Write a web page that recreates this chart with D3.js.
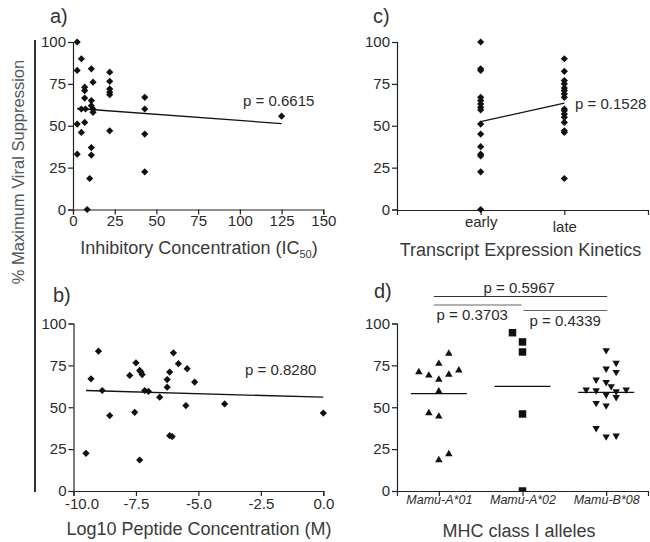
<!DOCTYPE html>
<html><head><meta charset="utf-8">
<script src="https://cdn.jsdelivr.net/npm/d3@7"></script>
<style>body{margin:0;background:#fff}svg{display:block}</style>
</head><body><svg id="c" width="650" height="542"></svg>
<script>
// ---------- DATA ----------
// a) Inhibitory concentration (IC50) vs % max viral suppression
const icX = [2.5,5,2.5,11,12,7,7,7,5,7.5,11,11,12,12,2.5,7,5,2.5,11,11,10,8.5,22,22,22,22,22,22,43,43,43,43,125];
const icY = [100,90,83,84,76,73,71,66.5,60,60,65,62,60,58,51,52,46,33,37,32.5,18.5,0,82,76.5,72,70,68.5,47,67,60,45,22.5,55.7];
const fitAX = [2.5,125], fitAY = [60.3,51.3];
const pA = "p = 0.6615";
const xTicksA = [0,25,50,75,100,125,150];

// b) Log10 peptide concentration vs % max viral suppression
const logX = [-9.0,-9.3,-8.85,-8.55,-9.5,-7.75,-7.5,-7.35,-7.3,-7.25,-7.55,-7.35,-7.15,-7.0,-6.55,-6.25,-6.25,-6.15,-6.0,-5.8,-5.45,-5.15,-5.5,-6.15,-6.05,-3.95,0];
const logY = [83.5,67,60,45,22.5,69,76.5,72,71,69.5,47,18.5,60,59.5,56,62,66.5,71,82.5,76,73,65,51,33,32.5,52,46.5];
const fitBX = [-9.5,0], fitBY = [60,56];
const pB = "p = 0.8280";
const xTicksB = [-10,-7.5,-5,-2.5,0];

// c) Transcript expression kinetics
const kinCats = ["early","late"];
const earlyVals = [100,84,83,67,65,63,61,59.5,51,45,37.5,33,32,22.5,0];
const lateVals = [90,82.5,77,75,72.5,71,69,67,60,59,57,55,52,47,46,18.5];
const kinLine = [52.5,63.5];
const pC = "p = 0.1528";

// d) MHC class I alleles
const alleles = ["Mamu-A*01","Mamu-A*02","Mamu-B*08"];
const a01Vals = [82,76,71,69,66.5,69.5,72,59.5,46.5,44.5,22,18.5];
const a01Slot = [1,0,-2,-1,0,1,2,0,-1,0,1,0];
const a02Vals = [94.5,89,83,46,0];
const a02Slot = [-1,0,0,0,0];
const b08Vals = [84,76.5,73,71,66.5,65,62.5,60.5,60,60.5,59.5,57.5,56,52.5,51,37.5,32.5,33];
const b08Slot = [0,1,0,1,-1,0,0.5,-2,-1,2,1,0,1,-1,0,-1,0,1];
const pD = ["p = 0.5967","p = 0.3703","p = 0.4339"];

const yTicks = [0,25,50,75,100];
const yTitle = "% Maximum Viral Suppression";

// ---------- DRAW ----------
const FONT = '"Liberation Sans", Arial, Helvetica, sans-serif';
const svg = d3.select("#c");
svg.append("rect").attr("width",650).attr("height",542).attr("fill","#fff");

function styleAxis(g, fs){
  g.attr("font-family", FONT).attr("font-size", fs || 15);
  g.select(".domain").attr("stroke","#222").attr("stroke-width",1.2);
  g.selectAll(".tick line").attr("stroke","#222").attr("stroke-width",1.2);
  g.selectAll(".tick text").attr("fill","#2b2b2b");
  return g;
}
function label(x,y,t,opts){
  opts = opts||{};
  return svg.append("text").attr("x",x).attr("y",y)
    .attr("font-family",FONT).attr("font-size",opts.fs||15)
    .attr("fill",opts.fill||"#2b2b2b")
    .attr("text-anchor",opts.anchor||"start")
    .text(t);
}
const diamond = d3.symbol(d3.symbolSquare, 26);

// left shared title + bar
svg.append("line").attr("x1",35).attr("x2",35).attr("y1",40).attr("y2",492)
  .attr("stroke","#333").attr("stroke-width",2);
svg.append("text").attr("transform","translate(24,172) rotate(-90)")
  .attr("text-anchor","middle").attr("font-family",FONT).attr("font-size",16.5)
  .attr("fill","#555").text(yTitle);

const yTop = d3.scaleLinear([0,100],[209.5,42]);
const yBot = d3.scaleLinear([0,100],[491,323.5]);

// ---- panel a ----
const xA = d3.scaleLinear([0,150],[73,323.3]);
styleAxis(svg.append("g").attr("transform","translate(73,0)")
  .call(d3.axisLeft(yTop).tickValues(yTicks).tickSize(5).tickPadding(2)));
styleAxis(svg.append("g").attr("transform","translate(0,209.5)")
  .call(d3.axisBottom(xA).tickValues(xTicksA).tickSize(5).tickPadding(1)));
svg.append("line").attr("x1",xA(fitAX[0])).attr("x2",xA(fitAX[1]))
  .attr("y1",yTop(fitAY[0])).attr("y2",yTop(fitAY[1])).attr("stroke","#111").attr("stroke-width",1.3);
svg.append("g").selectAll("path").data(icX).join("path")
  .attr("d",diamond).attr("fill","#111")
  .attr("transform",(d,i)=>`translate(${xA(d)},${yTop(icY[i])}) rotate(45)`);
label(243,106,pA);
label(50,22.5,"a)",{fs:20,fill:"#333"});
const tA = label(199,254,"Inhibitory Concentration (IC",{fs:18,fill:"#3a3a3a",anchor:"middle"});
tA.append("tspan").attr("font-size",11).attr("dy",4).text("50");
tA.append("tspan").attr("dy",-4).text(")");

// ---- panel b ----
const xB = d3.scaleLinear([-10,0],[73.5,323.3]);
styleAxis(svg.append("g").attr("transform","translate(73.5,0)")
  .call(d3.axisLeft(yBot).tickValues(yTicks).tickSize(5).tickPadding(2)));
const gxB = styleAxis(svg.append("g").attr("transform","translate(0,491)")
  .call(d3.axisBottom(xB).tickValues(xTicksB).tickFormat(d3.format(".1f")).tickSize(5).tickPadding(2)));
gxB.selectAll(".tick text").text(d=>d3.format(".1f")(d).replace("−","-"))
  .attr("dx",(d,i)=>i===0?8:0);
svg.append("line").attr("x1",xB(fitBX[0])).attr("x2",xB(fitBX[1]))
  .attr("y1",yBot(fitBY[0])).attr("y2",yBot(fitBY[1])).attr("stroke","#111").attr("stroke-width",1.3);
svg.append("g").selectAll("path").data(logX).join("path")
  .attr("d",diamond).attr("fill","#111")
  .attr("transform",(d,i)=>`translate(${xB(d)},${yBot(logY[i])}) rotate(45)`);
label(245,375,pB);
label(53,301.5,"b)",{fs:20,fill:"#333"});
label(199,535,"Log10 Peptide Concentration (M)",{fs:18,fill:"#3a3a3a",anchor:"middle"});

// ---- panel c ----
const xC = d3.scalePoint(kinCats,[397,648]).padding(1);
styleAxis(svg.append("g").attr("transform","translate(397,0)")
  .call(d3.axisLeft(yTop).tickValues(yTicks).tickSize(5).tickPadding(2)));
const gxC = styleAxis(svg.append("g").attr("transform","translate(0,210)")
  .call(d3.axisBottom(xC).tickSize(5).tickPadding(1)));
gxC.selectAll(".tick text").attr("dy",(d)=>d==="late"?"1.05em":"0.71em");
svg.append("line").attr("x1",xC("early")).attr("x2",xC("late"))
  .attr("y1",yTop(kinLine[0])).attr("y2",yTop(kinLine[1])).attr("stroke","#111").attr("stroke-width",1.3);
const kinPts = earlyVals.map(v=>["early",v]).concat(lateVals.map(v=>["late",v]));
svg.append("g").selectAll("path").data(kinPts).join("path")
  .attr("d",diamond).attr("fill","#111")
  .attr("transform",d=>`translate(${xC(d[0])},${yTop(d[1])}) rotate(45)`);
label(575,108.5,pC);
label(373,22.5,"c)",{fs:20,fill:"#333"});
label(520.5,256,"Transcript Expression Kinetics",{fs:18,fill:"#3a3a3a",anchor:"middle"});

// ---- panel d ----
const xD = d3.scalePoint(alleles,[397,648]).padding(0.5);
svg.append("defs").append("clipPath").attr("id","clipD").append("rect")
  .attr("x",397).attr("y",300).attr("width",260).attr("height",191);
styleAxis(svg.append("g").attr("transform","translate(397,0)")
  .call(d3.axisLeft(yBot).tickValues(yTicks).tickSize(5).tickPadding(2)));
const slotPx = 10;
const groups = [
  {c:alleles[0], vals:a01Vals, slot:a01Slot, sym:d3.symbol(d3.symbolTriangle,24), rot:0},
  {c:alleles[1], vals:a02Vals, slot:a02Slot, sym:d3.symbol(d3.symbolSquare,56), rot:0},
  {c:alleles[2], vals:b08Vals, slot:b08Slot, sym:d3.symbol(d3.symbolTriangle,24), rot:180}
];
const gd = svg.append("g").attr("clip-path","url(#clipD)");
groups.forEach(gr=>{
  gd.append("g").selectAll("path").data(gr.vals).join("path")
    .attr("d",gr.sym).attr("fill","#111")
    .attr("transform",(d,i)=>`translate(${xD(gr.c)+gr.slot[i]*slotPx},${yBot(d)}) rotate(${gr.rot})`);
  const m = d3.mean(gr.vals);
  svg.append("line").attr("x1",xD(gr.c)-28).attr("x2",xD(gr.c)+28)
    .attr("y1",yBot(m)).attr("y2",yBot(m)).attr("stroke","#111").attr("stroke-width",1.2);
});
const gxD = styleAxis(svg.append("g").attr("transform","translate(0,491)")
  .call(d3.axisBottom(xD).tickSize(5).tickPadding(-1)), 12.5);
gxD.selectAll(".tick text").attr("font-style","italic");
// comparison brackets
svg.append("line").attr("x1",xD(alleles[0])-5).attr("x2",xD(alleles[2])+1)
  .attr("y1",296.5).attr("y2",296.5).attr("stroke","#333").attr("stroke-width",1.2);
svg.append("line").attr("x1",xD(alleles[0])-5).attr("x2",xD(alleles[1])-1)
  .attr("y1",305).attr("y2",305).attr("stroke","#666").attr("stroke-width",1.2);
svg.append("line").attr("x1",xD(alleles[1])+1).attr("x2",xD(alleles[2])+1)
  .attr("y1",310.5).attr("y2",310.5).attr("stroke","#666").attr("stroke-width",1.2);
label(483.5,292.5,pD[0]);
label(436.5,320,pD[1]);
label(529.5,326,pD[2]);
label(374,298,"d)",{fs:20,fill:"#333"});
label(519,537,"MHC class I alleles",{fs:18,fill:"#3a3a3a",anchor:"middle"});
</script></body></html>
